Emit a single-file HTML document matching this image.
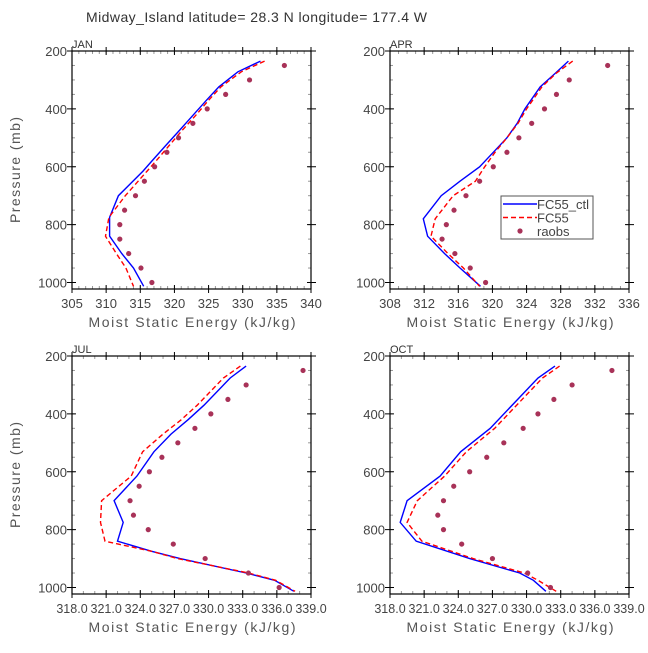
<!DOCTYPE html>
<html><head><meta charset="utf-8"><style>
body{margin:0;background:#fff}
svg text{font-family:"Liberation Sans",sans-serif}
</style></head><body>
<svg id="c" width="648" height="648" viewBox="0 0 648 648">
<text x="86" y="22" textLength="341" lengthAdjust="spacing" font-size="14" fill="#333">Midway_Island  latitude= 28.3 N longitude= 177.4 W</text>
</svg>
<script>
const levJAN=[235,272,324,370,420,470,525,580,615,700,775,840,900,950,1013];
const ctlJAN=[332.6,329.3,326.5,324.7,322.8,320.9,318.8,316.7,315.4,311.8,310.5,310.5,312.3,314.0,315.5];
const fcJAN=[333.2,329.8,326.8,325.0,323.2,321.3,319.3,317.3,316.0,312.8,310.4,309.9,311.5,312.9,314.0];
const levAPR=[235,276,324,400,450,500,550,600,650,700,780,840,900,950,1013];
const ctlAPR=[328.9,327.4,325.6,323.8,322.9,321.7,320.1,318.5,316.2,314.0,311.9,312.4,314.4,316.2,318.6];
const fcAPR=[329.4,327.5,325.8,324.0,323.0,321.7,320.3,319.1,318.0,315.4,313.3,312.8,314.8,316.6,318.5];
const levJUL=[235,276,370,420,470,531,615,700,775,840,875,900,950,975,1013];
const ctlJUL=[333.3,331.9,329.6,328.2,326.7,325.2,323.7,321.7,322.5,322.0,325.0,327.5,333.3,335.8,337.5];
const fcJUL=[332.8,331.3,329.0,327.6,326.0,324.2,323.2,320.6,320.5,320.9,325.0,327.3,333.5,335.9,337.6];
const levOCT=[235,276,450,531,615,700,775,840,900,950,975,1013];
const ctlOCT=[332.5,331.0,326.8,324.2,322.4,319.5,318.9,320.3,325.0,329.4,330.6,331.7];
const fcOCT=[332.9,331.4,327.2,324.7,322.8,320.4,319.5,320.8,325.3,329.8,331.0,332.6];
const obsLev=[250,300,350,400,450,500,550,600,650,700,750,800,850,900,950,1000];
const obsJAN=[336.1,331.0,327.5,324.8,322.7,320.6,318.9,317.1,315.6,314.3,312.7,312.0,312.0,313.3,315.1,316.7];
const obsAPR=[333.5,329.0,327.5,326.1,324.6,323.1,321.7,320.1,318.5,316.9,315.5,314.6,314.1,315.6,317.4,319.2];
const obsJUL=[338.3,333.3,331.7,330.2,328.8,327.3,325.9,324.8,323.9,323.1,323.4,324.7,326.9,329.7,333.5,336.2];
const obsOCT=[337.5,334.0,332.4,331.0,329.7,328.0,326.5,325.0,323.6,322.7,322.2,322.7,324.3,327.0,330.1,332.1];
const yTicks=[200,400,600,800,1000];
const xtJAN=["305","310","315","320","325","330","335","340"];
const xtAPR=["308","312","316","320","324","328","332","336"];
const xtJUL=["318.0","321.0","324.0","327.0","330.0","333.0","336.0","339.0"];

const svg=document.getElementById('c');
const NS='http://www.w3.org/2000/svg';
function mk(tag,a,parent){const e=document.createElementNS(NS,tag);for(const k in a)e.setAttribute(k,a[k]);(parent||svg).appendChild(e);return e;}

function panel(o){
  const g=mk('g',{});
  
  
  const L=o.x,R=o.x+239,T=o.y,B=o.y+238;
  const x0=o.xmin,x1=o.xmax;
  const sx=v=>L+(v-x0)/(x1-x0)*(R-L);
  const sy=p=>T+(p-200)/800*231.5;
  for(let v=x0;v<=x1+1e-6;v+=o.minor){
    for(const yy of [T,B]){
      const t=mk('line',{x1:sx(v),x2:sx(v),y1:yy===T?T:B,y2:yy===T?T+3:B-3,stroke:'#999','stroke-width':1},g);
      
      
    }
  }
  for(let p=250;p<=1000;p+=50){
    for(const xx of [L,R]){
      const t=mk('line',{x1:xx,x2:xx===L?L+3:R-3,y1:sy(p),y2:sy(p),stroke:'#999','stroke-width':1},g);
      
      
    }
  }
  const fr=mk('rect',{x:L,y:T,width:R-L,height:B-T,fill:'none',stroke:'#000','stroke-width':1.2},g);
  
  
  o.xt.forEach((lab,i)=>{
    const v=x0+i*o.major;
    mk('line',{x1:sx(v),x2:sx(v),y1:T-4,y2:T+4,stroke:'#000'},g);
    mk('line',{x1:sx(v),x2:sx(v),y1:B-4,y2:B+4,stroke:'#000'},g);
    const t=mk('text',{x:sx(v),y:B+19,'text-anchor':'middle','font-size':o.xfs,fill:'#444'},g);
    t.textContent=lab;
    
    
  });
  yTicks.forEach(p=>{
    mk('line',{x1:L-5,x2:L+4,y1:sy(p),y2:sy(p),stroke:'#000'},g);
    mk('line',{x1:R-4,x2:R+5,y1:sy(p),y2:sy(p),stroke:'#000'},g);
    const t=mk('text',{x:L-5,y:sy(p)+5,'text-anchor':'end','font-size':13,fill:'#444'},g);
    t.textContent=p;
    
    
  });
  const pl=mk('text',{x:L,y:T-3,'font-size':11,fill:'#333'},g);
  pl.textContent=o.name;
  
  
  const xl=mk('text',{x:(L+R)/2-103,y:B+38,textLength:207,lengthAdjust:'spacing','font-size':14,fill:'#555'},g);
  xl.textContent='Moist Static Energy (kJ/kg)';
  
  
  if(o.ylab){
    const yl=mk('text',{x:-53,y:0,textLength:106,lengthAdjust:'spacing','font-size':14,fill:'#555',transform:`translate(20,${(T+B)/2}) rotate(-90)`},g);
    yl.textContent='Pressure (mb)';
    
    
  }
  const pts=(lev,val)=>lev.map((p,i)=>sx(val[i]).toFixed(1)+','+sy(p).toFixed(1)).join(' ');
  const b=mk('polyline',{points:pts(o.lev,o.ctl),fill:'none',stroke:'#0000ff','stroke-width':1.4},g);
  
  
  const r=mk('polyline',{points:pts(o.lev,o.fc),fill:'none',stroke:'#ff0000','stroke-width':1.4,'stroke-dasharray':'5,3'},g);
  
  
  obsLev.forEach((p,i)=>{
    const c=mk('circle',{cx:sx(o.obs[i]),cy:sy(p),r:2.6,fill:'#a83258'},g);
    
    
  });
}
panel({name:'JAN',x:72,y:51,xmin:305,xmax:340,major:5,minor:1,xt:xtJAN,xfs:13,lev:levJAN,ctl:ctlJAN,fc:fcJAN,obs:obsJAN,ylab:true});
panel({name:'APR',x:390,y:51,xmin:308,xmax:336,major:4,minor:1,xt:xtAPR,xfs:13,lev:levAPR,ctl:ctlAPR,fc:fcAPR,obs:obsAPR,ylab:false});
panel({name:'JUL',x:72,y:356,xmin:318,xmax:339,major:3,minor:1,xt:xtJUL,xfs:12.5,lev:levJUL,ctl:ctlJUL,fc:fcJUL,obs:obsJUL,ylab:true});
panel({name:'OCT',x:390,y:356,xmin:318,xmax:339,major:3,minor:1,xt:xtJUL,xfs:12.5,lev:levOCT,ctl:ctlOCT,fc:fcOCT,obs:obsOCT,ylab:false});

const lg=mk('g',{});


mk('rect',{x:501,y:196,width:92,height:43,fill:'#fff',stroke:'#555','stroke-width':1},lg);
const entries=[['FC55_ctl','#0000ff',null],['FC55','#ff0000','5,3'],['raobs',null,null]];
entries.forEach((e,i)=>{
  const yy=204+i*13.5;
  const eg=mk('g',{},lg);
  
  
  if(e[1]){const a={x1:503,x2:537,y1:yy,y2:yy,stroke:e[1],'stroke-width':1.4};if(e[2])a['stroke-dasharray']=e[2];mk('line',a,eg);}
  else mk('circle',{cx:520,cy:yy,r:2.6,fill:'#a83258'},eg);
  const t=mk('text',{x:537,y:yy+5,'font-size':13,fill:'#444'},eg);
  t.textContent=e[0];
});
</script>
</body></html>
